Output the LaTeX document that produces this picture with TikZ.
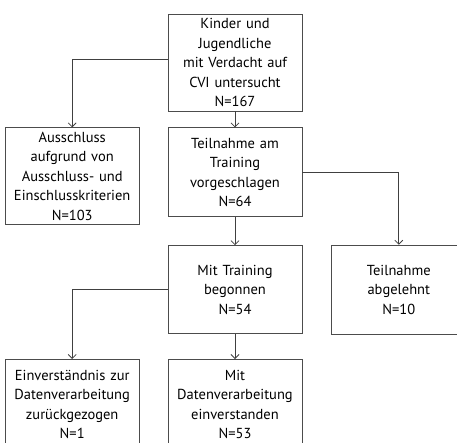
\documentclass[tikz,border=0pt]{standalone}
\usepackage{fontspec}
\setmainfont{PT Sans}
\usetikzlibrary{arrows.meta, positioning}

\begin{document}
\begin{tikzpicture}[
    x=1pt, y=1pt,
    node distance=16pt and 28pt,
    box/.style={rectangle, draw=black!70, line width=0.8pt, fill=white, text width=128pt, align=center, minimum width=134pt, inner sep=0pt, font=\fontsize{14.5}{19.5}\selectfont},
    arrow/.style={draw=black!75, line width=0.8pt, -{Straight Barb[length=4pt, width=8pt]}}
]
    \clip (0,0) rectangle (457,-442);

    \node[box, minimum height=97pt] (kinder) at (235,-62.5) {Kinder und\\ Jugendliche\\ mit Verdacht auf\\ CVI untersucht\\ N=167};
    \node[box, minimum height=89pt, below=16pt of kinder] (vorschlag) {Teilnahme am\\ Training\\ vorgeschlagen\\ N=64};
    \node[box, minimum height=97pt, left=28pt of vorschlag.north west, anchor=north east] (ausschluss) {Ausschluss\\ aufgrund von\\ Ausschluss- und\\ Einschlusskriterien\\ N=103};
    \node[box, minimum height=88pt, below=28pt of vorschlag] (begonnen) {Mit Training\\ begonnen\\ N=54};
    \node[box, minimum height=89pt, right=29pt of begonnen] (abgelehnt) {Teilnahme\\ abgelehnt\\ N=10};
    \node[box, minimum height=90pt, below=25pt of begonnen] (einverstanden) {Mit\\ Datenverarbeitung\\ einverstanden\\ N=53};
    \node[box, minimum height=90pt, left=28pt of einverstanden.north west, anchor=north east] (zurueck) {Einverständnis zur\\ Datenverarbeitung\\ zurückgezogen\\ N=1};

    \draw[arrow] ([yshift=3pt]kinder.west) -| (ausschluss.north);
    \draw[arrow] (kinder) -- (vorschlag);
    \draw[arrow] (vorschlag.east) -| (abgelehnt.north);
    \draw[arrow] (vorschlag) -- (begonnen);
    \draw[arrow] (begonnen.west) -| (zurueck.north);
    \draw[arrow] (begonnen) -- (einverstanden);

\end{tikzpicture}
\end{document}
